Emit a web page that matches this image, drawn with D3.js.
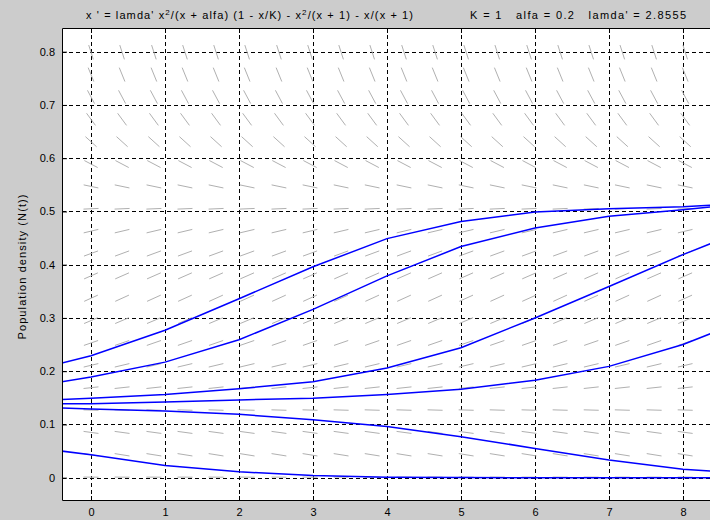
<!DOCTYPE html>
<meta charset="utf-8">
<style>
body { margin: 0; background: #cccccc; }
svg { display: block; font-family: "Liberation Sans", Arial, sans-serif; }
.grid line { stroke: #000; stroke-width: 1; stroke-dasharray: 4,3; shape-rendering: crispEdges; }
.field line { stroke: #b0b0b0; stroke-width: 1; }
.sol { fill: none; stroke: #0000ff; stroke-width: 1.5; }
text { font-size: 11px; fill: #000; white-space: pre; }
</style>
<body>
<svg width="710" height="520"></svg>
<script src="https://d3js.org/d3.v7.min.js"></script>
<script>

// tick values
var xTicks = [0, 1, 2, 3, 4, 5, 6, 7, 8];
var yTicks = [0, 0.1, 0.2, 0.3, 0.4, 0.5, 0.6, 0.7, 0.8];

// solution curves at these times
var solT  = [-0.4,  0,     1,     2,     3,     4,      5,     6,     7,     8,     8.4];
var sol1  = [0.215, 0.229, 0.277, 0.336, 0.396, 0.449,  0.481, 0.499, 0.505, 0.509, 0.512];
var sol2  = [0.180, 0.189, 0.217, 0.259, 0.316, 0.379,  0.434, 0.469, 0.491, 0.503, 0.509];
var sol3  = [0.147, 0.149, 0.156, 0.167, 0.180, 0.206,  0.244, 0.300, 0.359, 0.419, 0.441];
var sol4  = [0.139, 0.139, 0.142, 0.146, 0.149, 0.156,  0.166, 0.183, 0.209, 0.250, 0.272];
var sol5  = [0.131, 0.129, 0.125, 0.119, 0.109, 0.096,  0.077, 0.055, 0.033, 0.016, 0.012];
var sol6  = [0.050, 0.043, 0.023, 0.011, 0.004, 0.0008, 0.0002, 0,    0,     0,     0];

// direction field grid (t columns, N rows) and slope dN/dt of each row
var fieldT = [0, 0.42, 0.85, 1.27, 1.69, 2.11, 2.54, 2.96, 3.38, 3.80,
              4.23, 4.65, 5.07, 5.49, 5.92, 6.34, 6.76, 7.18, 7.61, 8.03];
var fieldN = [0.001, 0.043, 0.085, 0.127, 0.169, 0.211, 0.253, 0.295, 0.337, 0.379,
              0.421, 0.463, 0.505, 0.547, 0.589, 0.631, 0.673, 0.715, 0.757, 0.799];
var fieldSlope = [-0.001, -0.022, -0.019, -0.004, 0.015, 0.033, 0.048, 0.059, 0.063, 0.061,
                  0.051, 0.033, 0.006, -0.029, -0.073, -0.126, -0.189, -0.260, -0.342, -0.432];

var svg = d3.select("svg"),
    margin = {top: 28, right: -2, bottom: 19, left: 62},
    width = +svg.attr("width") - margin.left - margin.right,
    height = +svg.attr("height") - margin.top - margin.bottom;

var x = d3.scaleLinear().domain([-0.392, 8.392]).range([0, width]);
var y = d3.scaleLinear().domain([-0.0438, 0.8445]).range([height, 0]);

svg.append("defs").append("clipPath").attr("id", "clip")
    .append("rect").attr("width", width).attr("height", height);

var g = svg.append("g").attr("transform", "translate(" + margin.left + "," + margin.top + ")");

g.append("rect").attr("width", width).attr("height", height).attr("fill", "#fff");

var plot = g.append("g").attr("clip-path", "url(#clip)");

// grid
var grid = plot.append("g").attr("class", "grid");
grid.selectAll(".vx").data(xTicks).enter().append("line")
    .attr("x1", function(d) { return Math.round(x(d)) + 0.5; })
    .attr("x2", function(d) { return Math.round(x(d)) + 0.5; })
    .attr("y1", 0).attr("y2", height);
grid.selectAll(".hy").data(yTicks).enter().append("line")
    .attr("y1", function(d) { return Math.round(y(d)) + 0.5; })
    .attr("y2", function(d) { return Math.round(y(d)) + 0.5; })
    .attr("x1", 0).attr("x2", width);

// direction field
var cells = [];
fieldN.forEach(function(n, i) {
    fieldT.forEach(function(t) { cells.push({t: t, n: n, s: fieldSlope[i]}); });
});
var L = 15;
plot.append("g").attr("class", "field").selectAll("line").data(cells).enter().append("line")
    .each(function(d) {
        var vx = x(d.t + 1) - x(d.t), vy = y(d.n + d.s) - y(d.n);
        var k = L / 2 / Math.sqrt(vx * vx + vy * vy);
        d3.select(this)
            .attr("x1", x(d.t) - vx * k).attr("y1", y(d.n) - vy * k)
            .attr("x2", x(d.t) + vx * k).attr("y2", y(d.n) + vy * k);
    });

// solutions
var line = d3.line()
    .x(function(d) { return x(d[0]); })
    .y(function(d) { return y(d[1]); });
[sol1, sol2, sol3, sol4, sol5, sol6].forEach(function(s) {
    plot.append("path").attr("class", "sol")
        .datum(solT.map(function(t, i) { return [t, s[i]]; }))
        .attr("d", line);
});

// frame and inward ticks
var axisStyle = function(sel) {
    sel.select(".domain").remove();
    sel.selectAll(".tick line").attr("stroke", "#000");
    sel.selectAll(".tick text").attr("font-size", null).attr("font-family", null);
};
g.append("g").attr("transform", "translate(0," + height + ")")
    .call(d3.axisBottom(x).tickValues(xTicks).tickSizeInner(-5).tickPadding(7).tickFormat(d3.format("d")))
    .call(axisStyle);
g.append("g")
    .call(d3.axisLeft(y).tickValues(yTicks).tickSizeInner(-5).tickPadding(7).tickFormat(function(d) { return d === 0 ? "0" : d3.format(".1f")(d); }))
    .call(axisStyle);
g.append("g")
    .call(d3.axisTop(x).tickValues(xTicks).tickSizeInner(-5).tickFormat(""))
    .call(axisStyle);

g.append("path")
    .attr("d", "M" + (width + 5) + ",0.5H0.5V" + (height - 0.5) + "H" + (width + 5))
    .attr("fill", "none").attr("stroke", "#000").attr("stroke-width", 1);

// labels
svg.append("text")
    .attr("transform", "translate(26," + 267 + ") rotate(-90)")
    .attr("text-anchor", "middle")
    .attr("textLength", 145).attr("lengthAdjust", "spacing")
    .text("Population density (N(t))");

var title = svg.append("text").attr("x", 86).attr("y", 19)
    .attr("textLength", 327).attr("lengthAdjust", "spacing");
title.append("tspan").text("x ' = lamda' x");
title.append("tspan").attr("dy", -4).attr("font-size", "8px").text("2");
title.append("tspan").attr("dy", 4).text("/(x + alfa) (1 - x/K) - x");
title.append("tspan").attr("dy", -4).attr("font-size", "8px").text("2");
title.append("tspan").attr("dy", 4).text("/(x + 1) - x/(x + 1)");

svg.append("text").attr("x", 470).attr("y", 19)
    .attr("textLength", 216).attr("lengthAdjust", "spacing")
    .text("K = 1   alfa = 0.2   lamda' = 2.8555");

</script>
